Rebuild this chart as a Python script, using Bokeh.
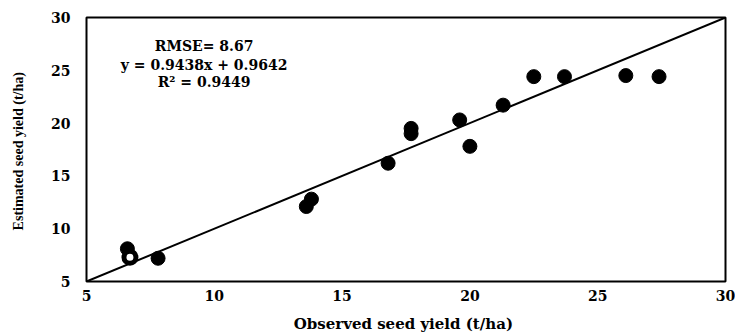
from bokeh.plotting import figure
from bokeh.models import Range1d, FixedTicker, Label
from bokeh.embed import file_html
from bokeh.resources import INLINE

# Observed vs. estimated seed yield (t/ha)
observed = [6.6, 6.7, 7.8, 13.6, 13.8, 16.8, 17.7, 17.7, 19.6, 20.0, 21.3, 22.5, 23.7, 26.1, 27.4]
estimated = [8.1, 7.3, 7.2, 12.1, 12.8, 16.2, 19.5, 19.0, 20.3, 17.8, 21.7, 24.4, 24.4, 24.5, 24.4]
open_point = 1  # the one sample drawn with an open centre

axis_ticks = [5, 10, 15, 20, 25, 30]
one_to_one = [5, 30]

stats_lines = ["RMSE= 8.67", "y = 0.9438x + 0.9642", "R\u00b2 = 0.9449"]

SERIF = "DejaVu Serif"

p = figure(width=735, height=335, output_backend="svg", toolbar_location=None,
           x_range=Range1d(5, 30), y_range=Range1d(5, 30),
           min_border_left=86, min_border_right=10,
           min_border_top=17, min_border_bottom=53)

p.background_fill_color = "white"
p.border_fill_color = "white"
p.outline_line_color = "black"
p.outline_line_width = 2
p.xgrid.visible = False
p.ygrid.visible = False

for ax in (p.xaxis[0], p.yaxis[0]):
    ax.ticker = FixedTicker(ticks=axis_ticks)
    ax.axis_line_color = None
    ax.major_tick_line_color = None
    ax.minor_tick_line_color = None
    ax.major_tick_out = 0
    ax.major_tick_in = 0
    ax.major_label_text_font = SERIF
    ax.major_label_text_font_style = "bold"
    ax.major_label_text_font_size = "14px"
    ax.major_label_text_color = "black"
    ax.axis_label_text_color = "black"
    ax.axis_label_text_font_style = "bold"

p.xaxis.axis_label = "Observed seed yield  (t/ha)"
p.xaxis.axis_label_text_font = SERIF
p.xaxis.axis_label_text_font_size = "15px"
p.xaxis.major_label_standoff = 8
p.xaxis.axis_label_standoff = 11

p.yaxis.axis_label = "Estimated seed yield  (t/ha)"
p.yaxis.axis_label_text_font = "Liberation Serif"
p.yaxis.axis_label_text_font_size = "14px"
p.yaxis.major_label_standoff = 16
p.yaxis.axis_label_standoff = 22

# 1:1 reference line
p.line(one_to_one, one_to_one, line_color="black", line_width=2)

# samples
solid_x = [v for i, v in enumerate(observed) if i != open_point]
solid_y = [v for i, v in enumerate(estimated) if i != open_point]
p.scatter(solid_x, solid_y, size=14, fill_color="black", line_color="black")
p.scatter([observed[open_point]], [estimated[open_point]], size=12,
          fill_color="white", line_color="black", line_width=5)

# fit statistics
stats_y = [27.3, 25.5, 23.9]
for txt, yy in zip(stats_lines, stats_y):
    p.add_layout(Label(x=9.6, y=yy, text=txt, text_align="center",
                       text_baseline="middle", text_font=SERIF,
                       text_font_style="bold", text_font_size="14px",
                       text_color="black"))

open("out.html", "w").write(file_html(p, INLINE))
